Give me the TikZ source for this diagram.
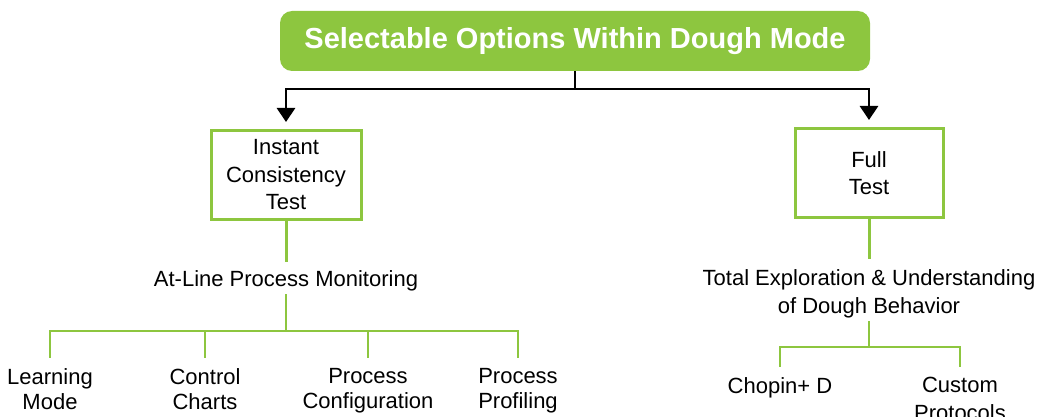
\documentclass[tikz,border=0pt]{standalone}
\usepackage{fontspec}
\setmainfont{Liberation Sans}
\usepackage{xcolor}
\usepackage{tikz}
\usetikzlibrary{calc}
\usetikzlibrary{positioning}
\usetikzlibrary{arrows.meta}
\definecolor{doughgreen}{HTML}{8DC63F}
\tikzset{
  headbox/.style={draw=none, fill=doughgreen, rounded corners=12pt, minimum width=590pt, minimum height=60pt, text=white, font=\fontsize{29}{33}\selectfont\bfseries},
  testbox/.style={draw=doughgreen, line width=3pt, fill=white, align=center, minimum height=89pt, inner sep=0pt, font=\fontsize{22}{27.5}\selectfont},
  label/.style={align=center, inner sep=3pt, font=\fontsize{22}{25}\selectfont},
  leaf/.style={label, anchor=north, inner ysep=10pt},
  blackline/.style={draw=black, line width=2.8pt},
  arr/.style={blackline, -{Triangle[width=18pt,length=14pt]}, shorten >=7pt},
  trunk/.style={draw=doughgreen, line width=3pt},
  twig/.style={draw=doughgreen, line width=1.6pt}
}
\begin{document}
\begin{tikzpicture}[x=1pt,y=-1pt]
\useasboundingbox (0,0) rectangle (1045,417);
% top
\node[headbox] (title) at (575,41) {Selectable Options Within Dough Mode};
\node[testbox, minimum width=150pt] (ict) at (286,175) {Instant\\Consistency\\Test};
\node[testbox, minimum width=148pt] (full) at (869,173) {Full\\Test};
\coordinate (split) at (575,89);
\draw[blackline] (title.south) -- (split);
\draw[arr] (split) -| (ict.north);
\draw[arr] (split) -| (full.north);
% left branch
\node[label] (atline) at (286,281) {At-Line Process Monitoring};
\draw[trunk] (ict.south) -- ++(0,41);
\coordinate (lj) at (286,331);
\draw[twig] (atline.south) -- (lj);
\node[leaf] (learn) at (50,358) {Learning\\Mode};
\node[leaf] (charts) at (205,358) {Control\\Charts};
\node[leaf] (config) at (368,358) {Process\\Configuration};
\node[leaf] (profil) at (518,358) {Process\\Profiling};
\foreach \n in {learn,charts,config,profil}
  \draw[twig] (lj) -| (\n.north);
% right branch
\node[label, font=\fontsize{22}{28}\selectfont] (total) at (869,294) {Total Exploration \& Understanding\\of Dough Behavior};
\draw[trunk] (full.south) -- ++(0,40);
\coordinate (rj) at (869,347);
\draw[twig] (total.south) -- (rj);
\node[leaf] (chopin) at (780,367) {Chopin+ D};
\node[leaf, font=\fontsize{22}{28}\selectfont] (custom) at (960,367) {Custom\\Protocols};
\draw[twig] (rj) -| (chopin.north);
\draw[twig] (rj) -| (custom.north);
\end{tikzpicture}
\end{document}
